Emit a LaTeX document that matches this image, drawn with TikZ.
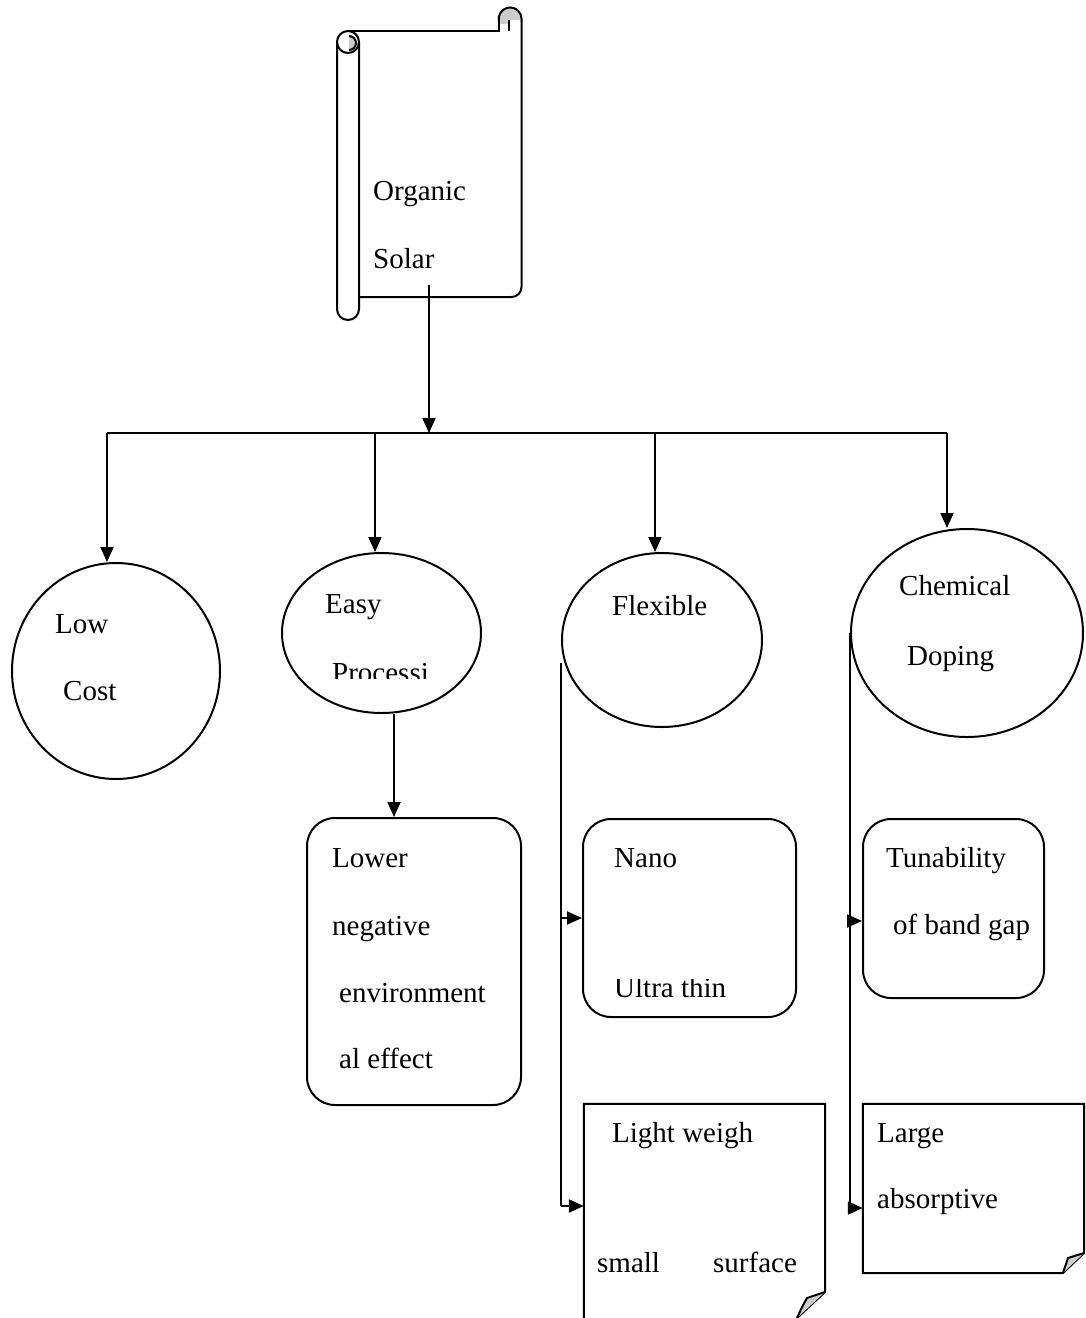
\documentclass[tikz,border=0pt]{standalone}
\usepackage{fontspec}
\setmainfont{Liberation Serif}
\usetikzlibrary{arrows.meta,shapes.geometric,calc}
\begin{document}
\begin{tikzpicture}[x=1pt,y=-1pt,
  ln/.style={line width=2pt},
  arr/.style={ln,-{Triangle[length=15pt,width=13pt]}},
  oval/.style={draw,ellipse,ln,inner sep=0pt},
  rbox/.style={draw,ln,rectangle,rounded corners=28pt,inner sep=0pt},
  frame/.style={rectangle,inner sep=0pt,draw=none},
  lbl/.style={anchor=base west,inner sep=0pt,font=\fontsize{29}{34}\selectfont},
  fold/.style={fill=gray!40}
]
\useasboundingbox (0,0) rectangle (1085,1318);
\clip (0,0) rectangle (1085,1318);

% ---------- scroll ----------
\node[frame,minimum width=162pt,minimum height=266pt] (scroll) at (440,164) {};
% right curl
\fill[fold] (510,18) circle[radius=11.5];
\fill[white] (499.5,24) rectangle (509,31);
\fill[white] (509,20) rectangle (520,31);
\draw[ln] (499,22) arc[start angle=165,end angle=360,radius=11.5]
  -- (521.5,287) arc[start angle=0,end angle=90,radius=10] -- (359,297);
\draw[ln] (348,31) -- (499,31) -- (499,21);
\draw[ln] (509,31) -- (509,20);
% left roll
\draw[ln] (337,42) -- (337,309) arc[start angle=180,end angle=0,radius=11] -- (359,42);
\fill[fold] (349,36) arc[start angle=270,end angle=450,radius=7] -- cycle;
\draw[ln] (349,36) arc[start angle=270,end angle=450,radius=7];
\draw[ln] (348,42) circle[radius=11];
\node[lbl] (t1) at (373,200) {Organic};
\node[lbl] (t2) at (373,268) {Solar};

% ---------- level 1 ----------
\node[oval,minimum width=208pt,minimum height=216pt] (low) at (116,671) {};
\node[oval,minimum width=199pt,minimum height=160pt] (easy) at (381.5,633) {};
\node[oval,minimum width=200pt,minimum height=174pt] (flex) at (662,640) {};
\node[oval,minimum width=232pt,minimum height=208pt] (chem) at (967,633) {};

\node[lbl] (t3) at (55,633) {Low};
\node[lbl] (t4) at (63,700) {Cost};
\node[lbl] (t5) at (325,613) {Easy};
\begin{scope}
  \clip (300,640) rectangle (470,678);
  \node[lbl] (t6) at (332,682) {Processi};
\end{scope}
\node[lbl] (t7) at (612,615) {Flexible};
\node[lbl] (t8) at (899,595) {Chemical};
\node[lbl] (t9) at (907,665) {Doping};

% ---------- level 2 ----------
\node[rbox,minimum width=214pt,minimum height=287pt] (lower) at (414,961.5) {};
\node[rbox,minimum width=213pt,minimum height=198pt] (nano) at (689.5,918) {};
\node[rbox,minimum width=181pt,minimum height=179pt] (tun) at (953.5,908.5) {};
\node[frame,minimum width=241pt,minimum height=214pt] (light) at (704.5,1211) {};
\node[frame,minimum width=221pt,minimum height=169pt] (large) at (973.5,1188.5) {};

\draw[ln] (light.south west) -- (light.north west) -- (light.north east) -- (825,1292) -- (797,1318);
\fill[fold] (825,1292) -- (807,1298) .. controls (803,1305) .. (797,1318) -- cycle;
\draw[ln] (825,1292) -- (807,1298) .. controls (803,1305) .. (797,1318);

\draw[ln] (large.north east) -- (1084,1253) -- (1063,1273) -- (large.south west) -- (large.north west) -- cycle;
\fill[fold] (1084,1253) -- (1068,1258) .. controls (1066,1264) .. (1063,1273) -- cycle;
\draw[ln] (1084,1253) -- (1068,1258) .. controls (1066,1264) .. (1063,1273);

\node[lbl] (t10) at (332,867) {Lower};
\node[lbl] (t11) at (332,935) {negative};
\node[lbl] (t12) at (339,1002) {environment};
\node[lbl] (t13) at (339,1068) {al effect};
\node[lbl] (t14) at (614,867) {Nano};
\begin{scope}
  \clip (600,979.5) rectangle (780,1010);
  \node[lbl] (t15) at (614,997) {Ultra thin};
\end{scope}
\node[lbl] (t16) at (886,867) {Tunability};
\node[lbl] (t17) at (893,934) {of band gap};
\node[lbl] (t18) at (612,1142) {Light weigh};
\node[lbl] (t19) at (597,1272) {small};
\node[lbl] (t20) at (713,1272) {surface};
\node[lbl] (t21) at (877,1142) {Large};
\node[lbl] (t22) at (877,1208) {absorptive};

% ---------- connectors ----------
\coordinate (src) at (429,285);
\coordinate (j) at (429,433);
\coordinate (b1) at (107,433);
\coordinate (b2) at (375,433);
\coordinate (b3) at (655,433);
\coordinate (b4) at (947,433);
\draw[arr] (src) -- (j);
\draw[ln] (b1) -- (b4);
\draw[arr] (b1) -- (b1 |- low.north);
\draw[arr] (b2) -- (b2 |- easy.north);
\draw[arr] (b3) -- (b3 |- flex.north);
\draw[arr] (b4) -- (b4 |- chem.north);

\draw[arr] ([xshift=12.5pt]easy.south) -- ([xshift=-20pt]lower.north);

\coordinate (f0) at ([yshift=-23pt]flex.west);
\coordinate (f1) at (f0 |- nano.west);
\coordinate (f2) at (f0 |- 0,1206);
\draw[ln] (f0) -- (f2);
\draw[arr] (f1) -- (nano.west);
\draw[arr] (f2) -- (f2 -| light.west);

\coordinate (c1) at (chem.west |- 0,921);
\coordinate (c2) at (chem.west |- 0,1208);
\draw[ln] (chem.west) -- (c2);
\draw[arr] (c1) -- (c1 -| tun.west);
\draw[arr] (c2) -- (c2 -| large.west);
\end{tikzpicture}
\end{document}
